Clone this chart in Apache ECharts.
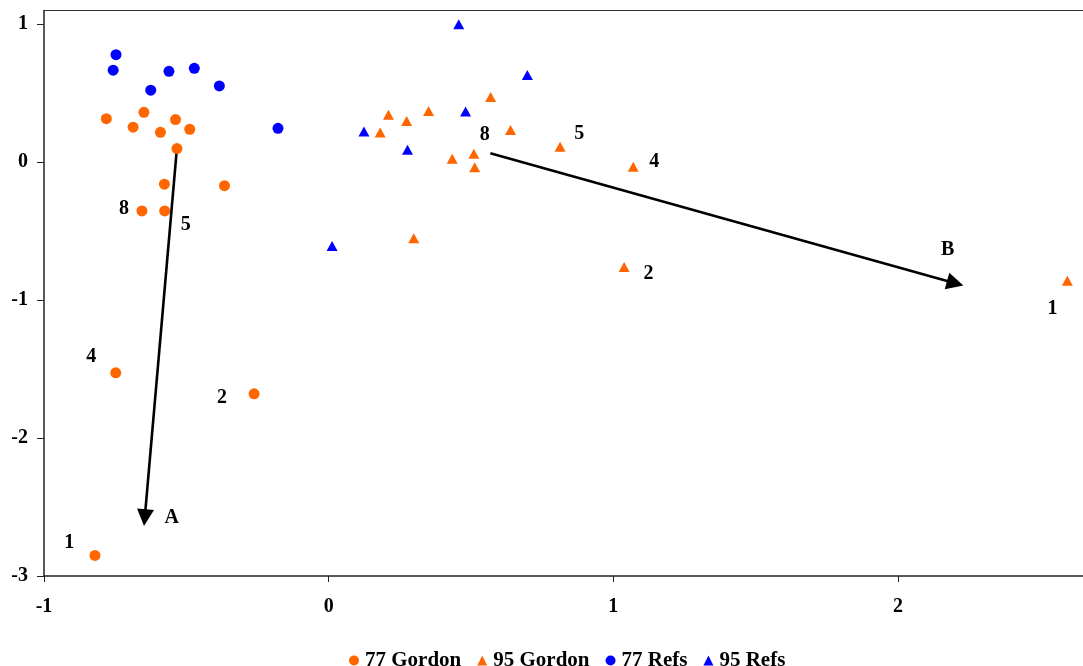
<!DOCTYPE html>
<html>
<head>
<meta charset="utf-8">
<title>Gordon vs Refs</title>
<script src="https://cdn.jsdelivr.net/npm/echarts@6/dist/echarts.min.js"></script>
<style>
  html, body { margin: 0; padding: 0; background: #fff; }
  #chart { width: 1083px; height: 666px; }
</style>
</head>
<body>
<div id="chart"></div>
<script>
// Score coordinates [x, y] for each group
const gordon77 = [
  [-0.781, 0.316], [-0.649, 0.362], [-0.687, 0.254], [-0.591, 0.217],
  [-0.538, 0.309], [-0.488, 0.239], [-0.533, 0.099], [-0.577, -0.159],
  [-0.366, -0.170], [-0.656, -0.353], [-0.576, -0.353], [-0.748, -1.527],
  [-0.262, -1.679], [-0.821, -2.851]
];
const gordon95 = [
  [0.569, 0.473], [0.210, 0.345], [0.274, 0.299], [0.351, 0.372],
  [0.181, 0.215], [0.639, 0.234], [0.434, 0.026], [0.510, 0.062],
  [0.513, -0.036], [0.813, 0.113], [1.070, -0.032], [0.299, -0.551],
  [1.038, -0.759], [2.595, -0.860]
];
const refs77 = [
  [-0.747, 0.780], [-0.757, 0.667], [-0.561, 0.659], [-0.472, 0.681],
  [-0.625, 0.522], [-0.384, 0.553], [-0.178, 0.246]
];
const refs95 = [
  [0.457, 1.000], [0.698, 0.633], [0.481, 0.367], [0.124, 0.222],
  [0.277, 0.091], [0.012, -0.608]
];

// Direction arrows A and B: [start, end]
const arrowA = [[-0.533, 0.104], [-0.646, -2.577]];
const arrowB = [[0.568, 0.065], [2.201, -0.878]];

// Text annotations: [x, y, text]
const annotations = [
  [-0.719, -0.341, '8'], [-0.502, -0.454, '5'], [-0.834, -1.409, '4'],
  [-0.375, -1.710, '2'], [-0.911, -2.761, '1'], [-0.551, -2.580, 'A'],
  [0.548, 0.198, '8'], [0.880, 0.203, '5'], [1.144, 0.000, '4'],
  [1.124, -0.809, '2'], [2.175, -0.636, 'B'], [2.543, -1.065, '1']
];

const xTicks = [-1, 0, 1, 2];
const yTicks = [-3, -2, -1, 0, 1];

const ORANGE = '#FF6600';
const BLUE = '#0000FF';
const FONT = 'Liberation Serif, Times New Roman, serif';

const chart = echarts.init(document.getElementById('chart'), null, { renderer: 'canvas' });

const labelFont = { fontFamily: FONT, fontWeight: 'bold', fontSize: 20, color: '#000' };

chart.setOption({
  animation: false,
  backgroundColor: '#fff',
  grid: { left: 44, right: 0, top: 10.5, bottom: 90 },
  xAxis: [
    {
      type: 'value', min: -1, max: 2.65, interval: 1,
      axisLine: { show: true, onZero: false, lineStyle: { color: '#222', width: 1.5 } },
      axisTick: { show: true, length: 6, lineStyle: { color: '#222', width: 1 } },
      axisLabel: Object.assign({ margin: 21, showMaxLabel: false,
        formatter: v => (xTicks.includes(v) ? String(v) : '') }, labelFont),
      splitLine: { show: false }
    },
    {
      type: 'value', position: 'top', min: -1, max: 2.65,
      axisLine: { show: true, onZero: false, lineStyle: { color: '#333', width: 1.2 } },
      axisTick: { show: false }, axisLabel: { show: false }, splitLine: { show: false }
    }
  ],
  yAxis: {
    type: 'value', min: -3, max: 1.1, interval: 1,
    axisLine: { show: true, onZero: false, lineStyle: { color: '#222', width: 1.5 } },
    axisTick: { show: true, length: 7, lineStyle: { color: '#222', width: 1 } },
    axisLabel: Object.assign({ margin: 16, showMaxLabel: false,
      formatter: v => (yTicks.includes(v) ? String(v) : '') }, labelFont),
    splitLine: { show: false }
  },
  legend: {
    left: 344, top: 645,
    itemWidth: 10, itemHeight: 10, itemGap: 16,
    textStyle: { fontFamily: FONT, fontWeight: 'bold', fontSize: 21, color: '#000', padding: [0, 0, 0, 1] },
    data: ['77 Gordon', '95 Gordon', '77 Refs', '95 Refs']
  },
  series: [
    {
      name: '77 Gordon', type: 'scatter', data: gordon77,
      symbol: 'circle', symbolSize: 11, itemStyle: { color: ORANGE, opacity: 1 }
    },
    {
      name: '95 Gordon', type: 'scatter', data: gordon95,
      symbol: 'triangle', symbolSize: [11, 10], itemStyle: { color: ORANGE, opacity: 1 }
    },
    {
      name: '77 Refs', type: 'scatter', data: refs77,
      symbol: 'circle', symbolSize: 11, itemStyle: { color: BLUE, opacity: 1 }
    },
    {
      name: '95 Refs', type: 'scatter', data: refs95,
      symbol: 'triangle', symbolSize: [11, 10], itemStyle: { color: BLUE, opacity: 1 }
    },
    {
      name: 'arrows', type: 'lines', coordinateSystem: 'cartesian2d',
      symbol: ['none', 'triangle'], symbolSize: [16, 17],
      lineStyle: { color: '#000', width: 2.6, opacity: 1 },
      silent: true,
      data: [{ coords: arrowA }, { coords: arrowB }]
    },
    {
      name: 'notes', type: 'scatter', symbolSize: 0, silent: true,
      itemStyle: { opacity: 1 },
      data: annotations.map(a => ({ value: [a[0], a[1]], name: a[2] })),
      label: Object.assign({ show: true, position: 'inside', opacity: 1, formatter: p => p.name }, labelFont)
    }
  ]
});
</script>
</body>
</html>
